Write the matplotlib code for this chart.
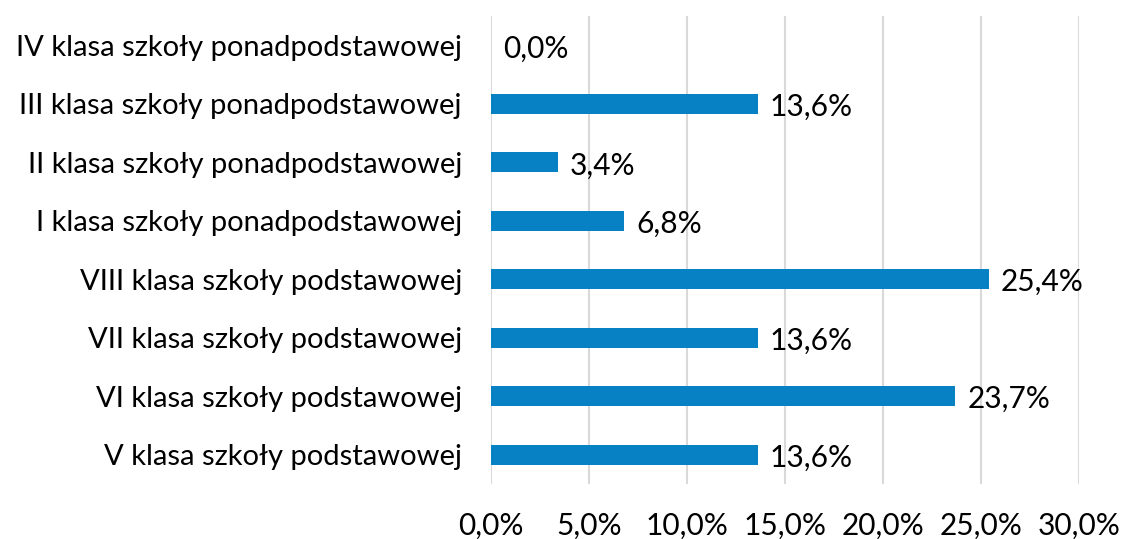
import matplotlib.pyplot as plt

# Kategorie od dołu do góry
kategorie = [
    "V klasa szkoły podstawowej",
    "VI klasa szkoły podstawowej",
    "VII klasa szkoły podstawowej",
    "VIII klasa szkoły podstawowej",
    "I klasa szkoły ponadpodstawowej",
    "II klasa szkoły ponadpodstawowej",
    "III klasa szkoły ponadpodstawowej",
    "IV klasa szkoły ponadpodstawowej",
]
wartosci = [13.6, 23.7, 13.6, 25.4, 6.8, 3.4, 13.6, 0.0]
ticki = [0, 5, 10, 15, 20, 25, 30]

plt.rcParams['font.family'] = ['Lato', 'DejaVu Sans']

fig = plt.figure(figsize=(11.21, 5.39), dpi=100)
ax = fig.add_axes([0.438, 0.102, 0.5245, 0.868])

y = range(len(kategorie))
ax.barh(y, wartosci, height=0.34, color="#0780C4", zorder=3)

for i, v in enumerate(wartosci):
    ax.text(v + 0.6, i - 0.05, f"{v:.1f}%".replace(".", ","),
            va="center", ha="left", fontsize=21.5)

ax.set_xlim(0, 30)
ax.set_ylim(-0.5, len(kategorie) - 0.5)
ax.set_xticks(ticki)
ax.set_xticklabels([f"{t:.1f}%".replace(".", ",") for t in ticki], fontsize=21.5)
ax.set_yticks(list(y))
ax.set_yticklabels(kategorie, fontsize=21)

ax.grid(axis="x", color="#D9D9D9", linewidth=1.5, zorder=0)
for s in ax.spines.values():
    s.set_visible(False)
ax.tick_params(axis="both", length=0)
ax.tick_params(axis="x", pad=20)
ax.tick_params(axis="y", pad=21)

fig.savefig("out.png", dpi=100)
